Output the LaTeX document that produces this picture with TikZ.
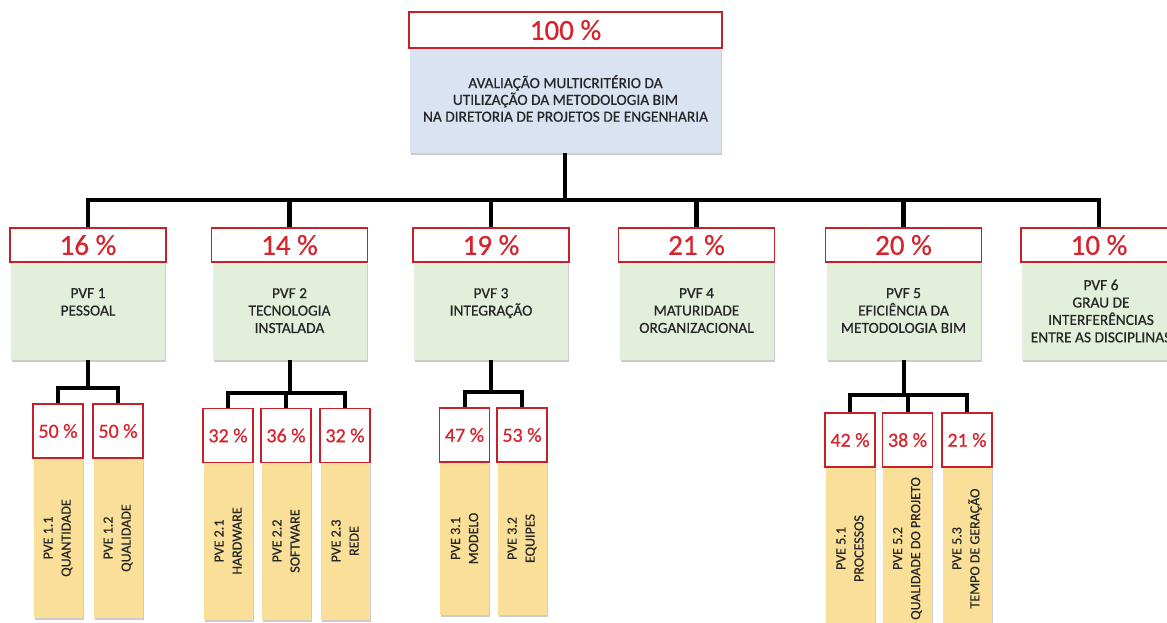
\documentclass[tikz,border=0pt]{standalone}
\usepackage{fontspec}
\setmainfont{Carlito}[FakeBold=0.6]
\usetikzlibrary{shadows}
\definecolor{hdrred}{RGB}{200,32,42}
\definecolor{pctred}{RGB}{214,36,46}
\definecolor{topblue}{RGB}{218,227,242}
\definecolor{pvfgreen}{RGB}{226,239,218}
\definecolor{pveyellow}{RGB}{250,223,152}
\definecolor{txtgray}{RGB}{38,38,38}

% one criterion box: body, percentage header and label (label x, label top y)
\newcommand\pvfnode[6]{%
  \node[fbody] (#1b) at (#2,311) {};
  \node[fhdr] (#1) at (#2,245) {#3};
  \node[ftext,anchor=north] (#1t) at (#5,#6) {#4};}
% one sub-criterion column: body, percentage header and rotated label
\newcommand\pvechild[7]{%
  \node[ebody,minimum height=#5pt] (#1b) at (#2,#4) {};
  \node[ehdr] (#1) at (#2,#3) {#6};
  \node[etext] (#1t) at (#1b.center) {#7};}

\begin{document}
\begin{tikzpicture}[x=1pt,y=-1pt,
  shade/.style={drop shadow={shadow xshift=1.2pt,shadow yshift=-1.6pt,opacity=0.2,fill=black}},
  hdrbase/.style={draw=hdrred,line width=1.6pt,fill=white,text=pctred,inner sep=0pt},
  thdr/.style={hdrbase,minimum width=313pt,minimum height=36pt,font=\fontsize{29}{32}\selectfont},
  tbody/.style={fill=topblue,shade,minimum width=311pt,minimum height=105pt,inner sep=0pt},
  fhdr/.style={hdrbase,minimum width=156pt,minimum height=34pt,font=\fontsize{29}{32}\selectfont},
  fbody/.style={fill=pvfgreen,shade,minimum width=154pt,minimum height=98pt,inner sep=0pt},
  ehdr/.style={hdrbase,minimum width=50pt,minimum height=54pt,font=\fontsize{20}{22}\selectfont},
  ebody/.style={fill=pveyellow,shade,minimum width=49pt,inner sep=0pt},
  btext/.style={text=txtgray,align=center,inner sep=0pt,font=\fontsize{15.4}{16.8}\selectfont},
  ftext/.style={text=txtgray,align=center,inner sep=0pt,font=\fontsize{15.4}{17.4}\selectfont},
  etext/.style={text=txtgray,align=center,inner sep=0pt,rotate=90,font=\fontsize{14}{18}\selectfont},
  conn/.style={draw=black,line width=4.5pt,line join=miter}]

\useasboundingbox (0,0) rectangle (1167,623);

% goal
\node[tbody] (topb) at (565,100.5) {};
\node[thdr] (top) at (565.5,30) {100 \%};
\node[btext] (topt) at (565.5,98.5) {AVALIAÇÃO MULTICRITÉRIO DA\\UTILIZAÇÃO DA METODOLOGIA BIM\\NA DIRETORIA DE PROJETOS DE ENGENHARIA};

% fundamental criteria
\pvfnode{f1}{88}{16 \%}{PVF 1\\PESSOAL}{88}{288}
\pvfnode{f2}{289.5}{14 \%}{PVF 2\\TECNOLOGIA\\INSTALADA}{289.5}{288}
\pvfnode{f3}{491}{19 \%}{PVF 3\\INTEGRAÇÃO}{491}{288}
\pvfnode{f4}{696.5}{21 \%}{PVF 4\\MATURIDADE\\ORGANIZACIONAL}{696.5}{288}
\pvfnode{f5}{903.5}{20 \%}{PVF 5\\EFICIÊNCIA DA\\METODOLOGIA BIM}{903.5}{288}
\pvfnode{f6}{1099}{10 \%}{PVF 6\\GRAU DE\\INTERFERÊNCIAS\\ENTRE AS DISCIPLINAS}{1101}{279.5}

% elementary criteria
\pvechild{e11}{58}{431}{538}{160}{50 \%}{PVE 1.1\\QUANTIDADE}
\pvechild{e12}{118}{431}{538}{160}{50 \%}{PVE 1.2\\QUALIDADE}

\pvechild{e21}{228}{435.5}{541}{158}{32 \%}{PVE 2.1\\HARDWARE}
\pvechild{e22}{286}{435.5}{541}{158}{36 \%}{PVE 2.2\\SOFTWARE}
\pvechild{e23}{345}{435.5}{541}{158}{32 \%}{PVE 2.3\\REDE}

\pvechild{e31}{464.5}{435}{538.5}{153}{47 \%}{PVE 3.1\\MODELO}
\pvechild{e32}{522}{435}{538.5}{153}{53 \%}{PVE 3.2\\EQUIPES}

\pvechild{e51}{850}{440}{548.5}{163}{42 \%}{PVE 5.1\\PROCESSOS}
\pvechild{e52}{907.5}{440}{548.5}{163}{38 \%}{PVE 5.2\\QUALIDADE DO PROJETO}
\pvechild{e53}{967}{440}{548.5}{163}{21 \%}{PVE 5.3\\TEMPO DE GERAÇÃO}

% connectors: goal to criteria
\coordinate (bus) at (0,200);
\draw[conn] (topb.south) -- (topb.south |- bus);
\draw[conn] (f1.north) -- (f1.north |- bus) -- (f6.north |- bus) -- (f6.north);
\foreach \n in {f2,f3,f4,f5}
  \draw[conn] (\n.north) -- (\n.north |- bus);

% connectors: criteria to sub-criteria
\begin{scope}[conn/.append style={line width=4pt}]
\coordinate (bus1) at (0,388);
\draw[conn] (f1b.south) -- (f1b.south |- bus1);
\draw[conn] (e11.north) -- (e11.north |- bus1) -- (e12.north |- bus1) -- (e12.north);

\coordinate (bus2) at (0,393);
\draw[conn] (f2b.south) -- (f2b.south |- bus2);
\draw[conn] (e21.north) -- (e21.north |- bus2) -- (e23.north |- bus2) -- (e23.north);
\draw[conn] (e22.north) -- (e22.north |- bus2);

\coordinate (bus3) at (0,392);
\draw[conn] (f3b.south) -- (f3b.south |- bus3);
\draw[conn] (e31.north) -- (e31.north |- bus3) -- (e32.north |- bus3) -- (e32.north);

\coordinate (bus5) at (0,395);
\draw[conn] (f5b.south) -- (f5b.south |- bus5);
\draw[conn] (e51.north) -- (e51.north |- bus5) -- (e53.north |- bus5) -- (e53.north);
\draw[conn] (e52.north) -- (e52.north |- bus5);
\end{scope}
\end{tikzpicture}
\end{document}
